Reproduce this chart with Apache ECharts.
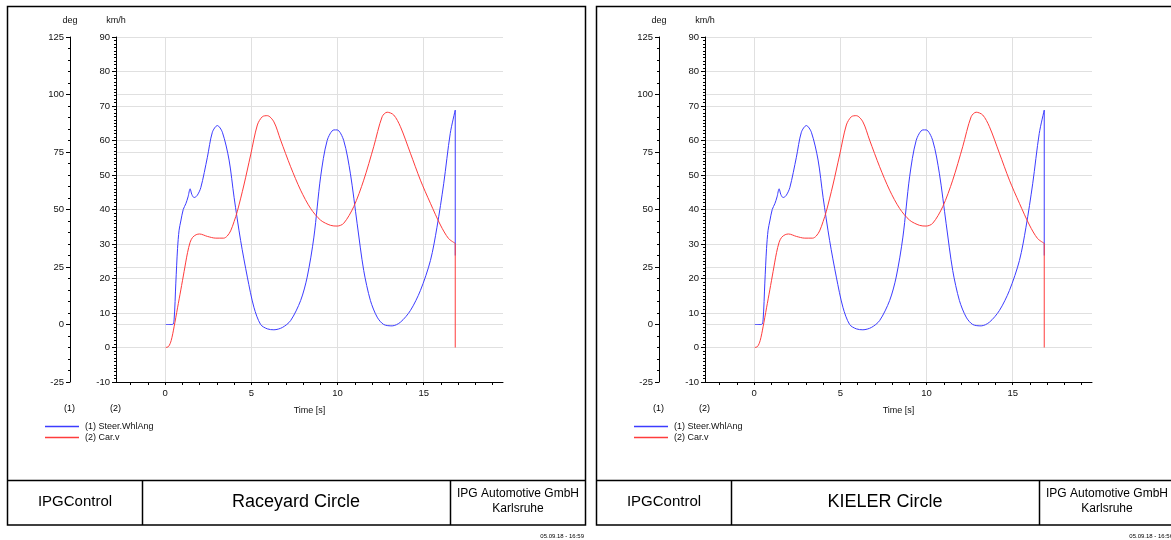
<!DOCTYPE html>
<html>
<head>
<meta charset="utf-8">
<script src="https://cdn.jsdelivr.net/npm/echarts@6/dist/echarts.min.js"></script>
<style>
html,body{margin:0;padding:0;background:#fff;}
#c{width:1171px;height:540px;}
</style>
</head>
<body>
<div id="c"></div>
<script>
// ---- data ----
const panelTitles = ['Raceyard Circle', 'KIELER Circle'];
const timestamps = ['05.09.18 - 16:59', '05.09.18 - 16:56'];
const seriesNames = ['(1) Steer.WhlAng', '(2) Car.v'];
const axisUnits = ['deg', 'km/h'];
const xLabelValues = [0, 5, 10, 15];
const xTickValues = [-2,-1,0,1,2,3,4,5,6,7,8,9,10,11,12,13,14,15,16,17,18,19];

// Steer.WhlAng [deg]
const steerT = [0.04,0.43,0.52,0.62,0.72,0.81,0.91,1.05,1.2,1.33,1.45,1.55,1.68,1.85,2.07,2.45,2.74,3.03,3.32,3.71,4.0,4.38,4.77,5.15,5.54,5.93,6.31,6.80,7.28,7.86,8.24,8.63,9.02,9.40,9.79,9.98,10.36,10.75,11.14,11.52,11.91,12.30,12.68,13.17,13.65,14.23,14.81,15.39,15.77,16.16,16.54,16.83];
const steerV = [0,0,2,18,33,41,45,50,52.5,55.5,59,56.5,55.2,56,59.5,72.7,83.6,86.5,83.6,71.5,55.3,36.5,20.6,7.5,0,-1.9,-2.3,-1.3,1.7,10.4,20.6,38,64.2,80,84.6,84.6,80,65.5,43.8,23.5,10.4,3.2,0,-0.6,1.0,6.1,14.8,27.8,42.3,61.2,83.1,93.2];
const steerEndT = [16.83,16.83];
const steerEndV = [93.2,30];

// Car.v [km/h]
const speedT = [0.04,0.2,0.35,0.52,0.72,0.91,1.1,1.3,1.45,1.59,1.8,2.0,2.45,2.94,3.4,3.6,3.8,4.0,4.19,4.57,4.96,5.35,5.64,5.93,6.31,6.70,7.28,7.86,8.44,9.02,9.60,9.98,10.36,10.94,11.52,12.10,12.59,12.88,13.26,13.65,14.23,14.81,15.39,15.97,16.44,16.83];
const speedV = [0,0.3,2,6,11.5,16.7,22,27.5,30.5,31.9,32.7,32.9,32.2,31.7,31.7,32.3,33.8,36.5,39.5,47.1,55.8,64.5,66.9,67.2,65.4,60.1,52.4,45.6,40.3,36.9,35.4,35.2,36,40.8,48.5,58.2,66.9,68.2,67.4,64,56.3,48.5,41.8,35.5,31.6,30.2];
const speedEndT = [16.83,16.83];
const speedEndV = [30.2,0];

const zip = (a, b) => a.map((v, i) => [v, b[i]]);

// ---- layout ----
const FONT = '"Liberation Sans", Arial, sans-serif';
const BLUE = '#3c3cff';
const RED = '#ff3c3c';
const GRIDC = '#e0e0e0';
const panelDX = [0, 589];

const chart = echarts.init(document.getElementById('c'));

const grids = [], xAxes = [], yAxes = [], series = [], legends = [], graphics = [];

panelDX.forEach((dx, p) => {
  grids.push({left: 116 + dx, top: 37, width: 387, height: 345, containLabel: false});
  // data x axis
  xAxes.push({
    type: 'value', gridIndex: p, position: 'bottom', min: -2.85, max: 19.6,
    axisLine: {show: true, onZero: false, lineStyle: {color: '#000', width: 1}},
    axisTick: {show: true, length: 3, customValues: xTickValues, lineStyle: {color: '#000'}},
    axisLabel: {show: true, customValues: xLabelValues, margin: 6, fontSize: 9.5, color: '#111', fontFamily: FONT},
    splitLine: {show: false},
    name: 'Time [s]', nameLocation: 'middle', nameGap: 24,
    nameTextStyle: {fontSize: 9, color: '#111', fontFamily: FONT}
  });
  // grid-line x axis
  xAxes.push({
    type: 'value', gridIndex: p, position: 'top', min: -2.85, max: 19.6,
    axisLine: {show: false}, axisLabel: {show: false},
    axisTick: {show: false, customValues: xLabelValues},
    splitLine: {show: true, lineStyle: {color: GRIDC, width: 1}}
  });
  // km/h axis
  yAxes.push({
    type: 'value', gridIndex: p, position: 'left', offset: 0, min: -10, max: 90, interval: 10,
    axisLine: {show: true, onZero: false, lineStyle: {color: '#000', width: 1}},
    axisTick: {show: true, length: 4, lineStyle: {color: '#000'}},
    minorTick: {show: true, splitNumber: 10, length: 2, lineStyle: {color: '#000'}},
    axisLabel: {margin: 6, fontSize: 9.5, color: '#111', fontFamily: FONT},
    splitLine: {show: true, lineStyle: {color: GRIDC, width: 1}},
    name: axisUnits[1], nameLocation: 'end', nameGap: 12,
    nameTextStyle: {fontSize: 9, color: '#111', fontFamily: FONT, align: 'center'}
  });
  // deg axis
  yAxes.push({
    type: 'value', gridIndex: p, position: 'left', offset: 46, min: -25, max: 125, interval: 25,
    axisLine: {show: true, onZero: false, lineStyle: {color: '#000', width: 1}},
    axisTick: {show: true, length: 4, lineStyle: {color: '#000'}},
    minorTick: {show: true, splitNumber: 5, length: 2, lineStyle: {color: '#000'}},
    axisLabel: {margin: 6, fontSize: 9.5, color: '#111', fontFamily: FONT},
    splitLine: {show: true, lineStyle: {color: GRIDC, width: 1}},
    name: axisUnits[0], nameLocation: 'end', nameGap: 12,
    nameTextStyle: {fontSize: 9, color: '#111', fontFamily: FONT, align: 'center'}
  });
  const xi = p * 2, yk = p * 2, yd = p * 2 + 1;
  const common = {type: 'line', symbol: 'none', xAxisIndex: xi, animation: false};
  series.push(Object.assign({}, common, {name: seriesNames[0], yAxisIndex: yd, smooth: 0.3, data: zip(steerT, steerV), lineStyle: {color: BLUE, width: 1}, itemStyle: {color: BLUE}}));
  series.push(Object.assign({}, common, {name: seriesNames[1], yAxisIndex: yk, smooth: 0.3, data: zip(speedT, speedV), lineStyle: {color: RED, width: 1}, itemStyle: {color: RED}}));
  series.push(Object.assign({}, common, {name: seriesNames[0], yAxisIndex: yd, data: zip(steerEndT, steerEndV), lineStyle: {color: BLUE, width: 1}, itemStyle: {color: BLUE}}));
  series.push(Object.assign({}, common, {name: seriesNames[1], yAxisIndex: yk, data: zip(speedEndT, speedEndV), lineStyle: {color: RED, width: 1}, itemStyle: {color: RED}}));

  legends.push({
    orient: 'vertical', left: 45 + dx, top: 422, padding: 0, itemGap: 2, itemWidth: 34, itemHeight: 1.5,
    icon: 'rect', selectedMode: false, data: seriesNames,
    textStyle: {fontSize: 9, color: '#111', fontFamily: FONT, padding: [0, 0, 0, 1]}
  });

  // frames
  const L = 7.5 + dx, R = 585.5 + dx;
  graphics.push({type: 'rect', shape: {x: L, y: 6.5, width: R - L, height: 518.5}, style: {fill: null, stroke: '#000', lineWidth: 1.5}, silent: true});
  graphics.push({type: 'line', shape: {x1: L, y1: 480.5, x2: R, y2: 480.5}, style: {stroke: '#000', lineWidth: 1.5}});
  graphics.push({type: 'line', shape: {x1: 142.5 + dx, y1: 480.5, x2: 142.5 + dx, y2: 525}, style: {stroke: '#000', lineWidth: 1.5}});
  graphics.push({type: 'line', shape: {x1: 450.5 + dx, y1: 480.5, x2: 450.5 + dx, y2: 525}, style: {stroke: '#000', lineWidth: 1.5}});
  const txt = (x, y, s, size, align) => ({type: 'text', x: x, y: y, style: {text: s, fill: '#000', font: size + 'px ' + FONT, align: align || 'center', verticalAlign: 'middle'}});
  graphics.push(txt(75 + dx, 502, 'IPGControl', 15));
  graphics.push(txt(296 + dx, 502, panelTitles[p], 18));
  graphics.push(txt(518 + dx, 494, 'IPG Automotive GmbH', 12));
  graphics.push(txt(518 + dx, 509, 'Karlsruhe', 12));
  graphics.push(txt(584 + dx, 536, timestamps[p], 6, 'right'));
  graphics.push(txt(69.5 + dx, 408.5, '(1)', 9));
  graphics.push(txt(115.5 + dx, 408.5, '(2)', 9));
});

chart.setOption({
  animation: false,
  backgroundColor: '#fff',
  grid: grids,
  xAxis: xAxes,
  yAxis: yAxes,
  legend: legends,
  series: series,
  graphic: graphics
});
</script>
</body>
</html>
